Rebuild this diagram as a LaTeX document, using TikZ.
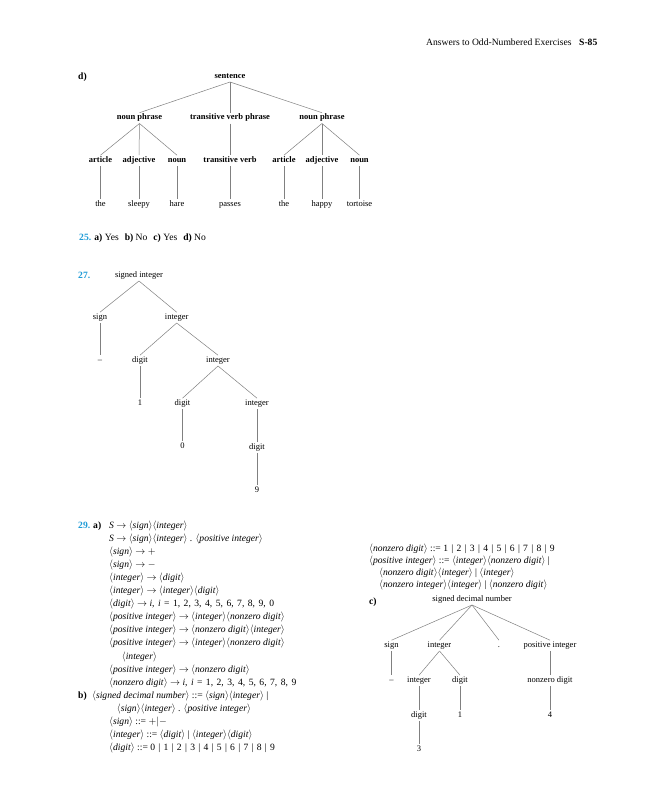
\documentclass[tikz,border=0pt]{standalone}
\usepackage{fontspec}
\setmainfont{Liberation Serif}
\definecolor{numblue}{RGB}{30,155,215}
\newcommand{\nt}[1]{$\langle$\textit{#1}$\rangle$}
\newcommand{\myarr}{$\rightarrow$}
\newcommand{\br}{\kern0.9pt\ |\ \kern0.9pt}
\newcommand{\cm}{,\kern1.1pt\ }
\newcommand{\edg}[2]{\draw[edge] ([yshift=-4pt]#1.base) -- ([yshift=6.8pt]#2.base);}
\begin{document}
\begin{tikzpicture}[x=1pt,y=-1pt,
  tn/.style={font=\fontsize{8.5}{10}\selectfont, inner sep=0pt, anchor=base},
  tb/.style={tn, font=\fontsize{8.5}{10}\selectfont\bfseries},
  tx/.style={font=\fontsize{9.6}{12}\selectfont, inner sep=0pt, anchor=base west},
  txb/.style={tx, font=\fontsize{9.6}{12}\selectfont\bfseries},
  edge/.style={draw=black!50, line width=0.5pt}]
\useasboundingbox (0,0) rectangle (648,800);
\fill[white] (0,0) rectangle (648,800);
% header
\node[tx] (hdr) at (426,46) {Answers to Odd-Numbered Exercises};
\node[txb] (pg) at (579,46) {S-85};
% d)
\node[txb] (dl) at (78,79) {d)};
\node[tb] (s) at (230,78) {sentence};
\node[tb] (np1) at (139.5,119.5) {noun phrase};
\node[tb] (tvp) at (230,119.5) {transitive verb phrase};
\node[tb] (np2) at (322,119.5) {noun phrase};
\node[tb] (ar1) at (100.5,162) {article};
\node[tb] (ad1) at (139,162) {adjective};
\node[tb] (no1) at (177,162) {noun};
\node[tb] (tv) at (230,162) {transitive verb};
\node[tb] (ar2) at (284,162) {article};
\node[tb] (ad2) at (322,162) {adjective};
\node[tb] (no2) at (359.5,162) {noun};
\node[tn] (w1) at (100.5,206) {the};
\node[tn] (w2) at (139,206) {sleepy};
\node[tn] (w3) at (177,206) {hare};
\node[tn] (w4) at (230,206) {passes};
\node[tn] (w5) at (284,206) {the};
\node[tn] (w6) at (322,206) {happy};
\node[tn] (w7) at (359.5,206) {tortoise};
\edg{s}{np1}\edg{s}{tvp}\edg{s}{np2}
\edg{np1}{ar1}\edg{np1}{ad1}\edg{np1}{no1}
\edg{tvp}{tv}
\edg{np2}{ar2}\edg{np2}{ad2}\edg{np2}{no2}
\edg{ar1}{w1}\edg{ad1}{w2}\edg{no1}{w3}\edg{tv}{w4}
\edg{ar2}{w5}\edg{ad2}{w6}\edg{no2}{w7}
% 25
\node[tx] (q25) at (79,240) {\textbf{\color{numblue}25.} \textbf{a)} Yes\hspace{6pt}\textbf{b)} No\hspace{6pt}\textbf{c)} Yes\hspace{6pt}\textbf{d)} No};
% 27
\node[txb] (q27) at (78,278) {\color{numblue}27.};
\node[tn] (si) at (139,277) {signed integer};
\node[tn] (sg) at (100,319) {sign};
\node[tn] (i1) at (176.7,319) {integer};
\node[tn] (mn) at (100,362) {–};
\node[tn] (d1) at (140,362) {digit};
\node[tn] (i2) at (218,362) {integer};
\node[tn] (one) at (140,405) {1};
\node[tn] (d2) at (182.5,405) {digit};
\node[tn] (i3) at (257,405) {integer};
\node[tn] (zero) at (182.5,448) {0};
\node[tn] (d3) at (257,449) {digit};
\node[tn] (nine) at (257,492) {9};
\edg{si}{sg}\edg{si}{i1}\edg{sg}{mn}\edg{i1}{d1}\edg{i1}{i2}
\edg{d1}{one}\edg{i2}{d2}\edg{i2}{i3}\edg{d2}{zero}\edg{i3}{d3}\edg{d3}{nine}
% 29
\node[txb] (q29) at (78,528) {\color{numblue}29.};
\node[txb] (qa) at (93,528) {a)};
\node[tx] (l1) at (109,528) {\textit{S} \myarr{} \nt{sign}\nt{integer}};
\node[tx] (l2) at (109,541.1) {\textit{S} \myarr{} \nt{sign}\nt{integer} . \nt{positive integer}};
\node[tx] (l3) at (109,554.2) {\nt{sign} \myarr{} $+$};
\node[tx] (l4) at (109,567.3) {\nt{sign} \myarr{} $-$};
\node[tx] (l5) at (109,580.4) {\nt{integer} \myarr{} \nt{digit}};
\node[tx] (l6) at (109,593.5) {\nt{integer} \myarr{} \nt{integer}\nt{digit}};
\node[tx] (l7) at (109,606.6) {\nt{digit} \myarr{} \textit{i}\cm\textit{i}\kern1pt\ =\ \kern1pt1\cm2\cm3\cm4\cm5\cm6\cm7\cm8\cm9\cm0};
\node[tx] (l8) at (109,619.7) {\nt{positive integer} \myarr{} \nt{integer}\nt{nonzero digit}};
\node[tx] (l9) at (109,632.8) {\nt{positive integer} \myarr{} \nt{nonzero digit}\nt{integer}};
\node[tx] (l10) at (109,645.9) {\nt{positive integer} \myarr{} \nt{integer}\nt{nonzero digit}};
\node[tx] (l11) at (121.7,659) {\nt{integer}};
\node[tx] (l12) at (109,672.1) {\nt{positive integer} \myarr{} \nt{nonzero digit}};
\node[tx] (l13) at (109,685.2) {\nt{nonzero digit} \myarr{} \textit{i}\cm\textit{i}\kern1pt\ =\ \kern1pt1\cm2\cm3\cm4\cm5\cm6\cm7\cm8\cm9};
\node[txb] (qb) at (78,698.3) {b)};
\node[tx] (l14) at (92,698.3) {\nt{signed decimal number} ::= \nt{sign}\nt{integer} |};
\node[tx] (l15) at (116.7,711.4) {\nt{sign}\nt{integer} . \nt{positive integer}};
\node[tx] (l16) at (109,724.5) {\nt{sign} ::= $+|-$};
\node[tx] (l17) at (109,737.6) {\nt{integer} ::= \nt{digit} | \nt{integer}\nt{digit}};
\node[tx] (l18) at (109,750.7) {\nt{digit} ::= 0\br1\br2\br3\br4\br5\br6\br7\br8\br9};
% right column
\node[tx] (r1) at (369,551.5) {\nt{nonzero digit} ::= 1\br2\br3\br4\br5\br6\br7\br8\br9};
\node[tx] (r2) at (369,563.5) {\nt{positive integer} ::= \nt{integer}\nt{nonzero digit} |};
\node[tx] (r3) at (379,575.5) {\nt{nonzero digit}\nt{integer} | \nt{integer}};
\node[tx] (r4) at (379,587.5) {\nt{nonzero integer}\nt{integer} | \nt{nonzero digit}};
% c)
\node[txb] (qc) at (369,604) {c)};
\node[tn] (sdn) at (472,601) {signed decimal number};
\node[tn] (sg2) at (391.5,647) {sign};
\node[tn] (in2) at (439.5,647) {integer};
\node[tn] (dot) at (499,647) {.};
\node[tn] (pi) at (550,647) {positive integer};
\node[tn] (mn2) at (391.5,682) {–};
\node[tn] (in3) at (419,682) {integer};
\node[tn] (dg) at (460,682) {digit};
\node[tn] (nzd) at (550,682) {nonzero digit};
\node[tn] (dg2) at (419,717) {digit};
\node[tn] (one2) at (460,717) {1};
\node[tn] (four) at (550,717) {4};
\node[tn] (three) at (419,751) {3};
\edg{sdn}{sg2}\edg{sdn}{in2}\edg{sdn}{dot}\edg{sdn}{pi}
\edg{sg2}{mn2}\edg{in2}{in3}\edg{in2}{dg}\edg{pi}{nzd}
\edg{in3}{dg2}\edg{dg}{one2}\edg{nzd}{four}\edg{dg2}{three}
\end{tikzpicture}
\end{document}
